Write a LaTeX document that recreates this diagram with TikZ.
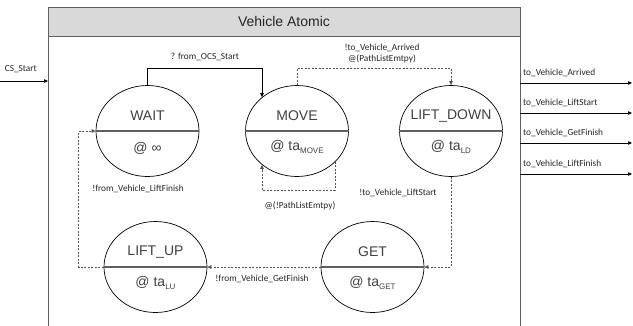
\documentclass[tikz,border=0pt]{standalone}
\usepackage{fontspec}
\setmainfont{Liberation Sans}
\newfontfamily\lblfont{Carlito}
\usetikzlibrary{shapes.geometric,arrows.meta,calc}
\definecolor{hdr}{HTML}{D9D9D9}
\definecolor{framec}{HTML}{606060}
\definecolor{txt}{HTML}{404040}
\definecolor{dsh}{HTML}{555555}
\newcommand\stsub[1]{\raisebox{-2.5pt}{\fontsize{8}{8}\selectfont #1}}
\begin{document}
\begin{tikzpicture}[x=1pt,y=-1pt,
  state/.style={ellipse,draw=black,line width=0.7pt,minimum width=103pt,minimum height=91pt,inner sep=0pt},
  sname/.style={font=\fontsize{14}{16}\selectfont,text=txt,inner sep=0pt},
  lbl/.style={font=\lblfont\fontsize{9.3}{11}\selectfont,text=black!85,inner sep=0pt},
  ttl/.style={font=\fontsize{14}{16}\selectfont,text=black!85,inner sep=0pt},
  arr/.style={draw=black,line width=0.6pt,-{Triangle[length=4pt,width=3.5pt]}},
  darr/.style={draw=dsh,line width=0.6pt,dash pattern=on 2pt off 1.5pt,-{Triangle[length=4pt,width=3.5pt]}},
  divider/.style={draw=framec,line width=1.3pt}
]
\fill[white] (0,0) rectangle (633,325);
\useasboundingbox (0,0) rectangle (633,325);

% outer atomic box
\draw[framec,line width=1pt,fill=hdr] (48,7) rectangle (520,36);
\draw[framec,line width=1pt] (48,36) -- (48,330) (520,36) -- (520,330);
\node[ttl] (title) at (284,21) {Vehicle Atomic};

% states
\node[state] (wait) at (147.5,131) {};
\node[state] (move) at (297,131) {};
\node[state] (ld)   at (451,131) {};
\node[state] (get)  at (372.5,267) {};
\node[state] (lu)   at (155.5,267) {};
\foreach \s in {wait,move,ld,get,lu}{\draw[divider] (\s.west) -- (\s.east);}

\node[sname] (waitN) at ($(wait.center)+(0,-15)$) {WAIT};
\node[sname] (waitT) at ($(wait.center)+(0,17)$) {@ ∞};
\node[sname] (moveN) at ($(move.center)+(0,-15)$) {MOVE};
\node[sname] (moveT) at ($(move.center)+(0,16)$) {@ ta\stsub{MOVE}};
\node[sname] (ldN) at ($(ld.center)+(0,-15)$) {LIFT\_DOWN};
\node[sname] (ldT) at ($(ld.center)+(0,16)$) {@ ta\stsub{LD}};
\node[sname] (getN) at ($(get.center)+(0,-15)$) {GET};
\node[sname] (getT) at ($(get.center)+(0,16)$) {@ ta\stsub{GET}};
\node[sname] (luN) at ($(lu.center)+(0,-15)$) {LIFT\_UP};
\node[sname] (luT) at ($(lu.center)+(0,16)$) {@ ta\stsub{LU}};

% ports
\coordinate (inS) at (0,81);
\coordinate (inE) at (48,81);
\draw[arr] (inS) -- (inE);
\node[lbl,anchor=east] (inL) at (37,69) {CS\_Start};

\foreach \n/\y/\t in {a/83/to\_Vehicle\_Arrived,b/113/to\_Vehicle\_LiftStart,c/143/to\_Vehicle\_GetFinish,d/174/to\_Vehicle\_LiftFinish}{
  \coordinate (o\n S) at (520,\y);
  \coordinate (o\n E) at (632,\y);
  \draw[arr] (o\n S) -- (o\n E);
  \node[lbl,anchor=west] (o\n L) at (523,\y-10) {\t};
}

% transitions
\draw[arr] (wait.north) -- ++(0,-17) -| (move.136);
\node[lbl] (t1) at (205,57) {? from\_OCS\_Start};

\draw[darr] (move.north) -- ++(0,-17) -| (ld.north);
\node[lbl,align=center] (t2) at (382,53.5) {!to\_Vehicle\_Arrived\\@(PathListEmtpy)};

\coordinate (loopB) at (297,190);
\draw[darr] (move.-39) |- (loopB) -| (move.-136);
\node[lbl] (t3) at (300,206) {@(!PathListEmtpy)};

\draw[darr] (ld.south) |- (get.east);
\node[lbl] (t4) at (398,193) {!to\_Vehicle\_LiftStart};

\draw[darr] (get.west) -- (lu.east);
\node[lbl] (t5) at (262,279) {!from\_Vehicle\_GetFinish};

\draw[darr] (lu.west) -- ++(-25,0) |- (wait.west);
\node[lbl] (t6) at (138,189) {!from\_Vehicle\_LiftFinish};
\end{tikzpicture}
\end{document}
